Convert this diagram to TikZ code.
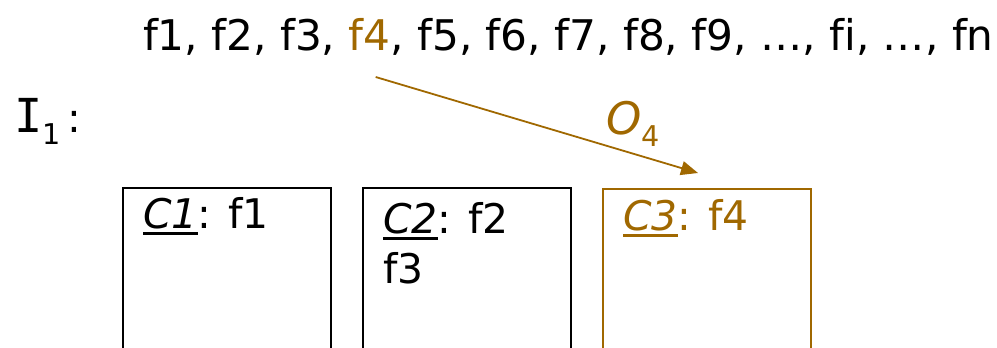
\documentclass[tikz,border=0pt]{standalone}
\usepackage{fontspec}
\setmainfont{DejaVu Sans}[Ligatures=NoCommon]
\newfontfamily\monoI{DejaVu Sans Mono}
\usetikzlibrary{arrows.meta,calc}
\definecolor{gold}{RGB}{160,104,0}
\newcommand\myul[1]{\setbox0\hbox{#1}\rlap{\raisebox{-7bp}{\rule{\wd0}{2.6bp}}}\box0}
\begin{document}
\begin{tikzpicture}[x=1bp,y=-1bp,
  every node/.style={inner sep=0pt,outer sep=0pt},
  big/.style={font=\fontsize{41}{49}\selectfont},
  top/.style={font=\fontsize{42.4}{50}\selectfont},
  cbox/.style={draw,line width=1.8bp,minimum width=208bp,minimum height=220bp,anchor=north west},
  arr/.style={draw=gold,line width=1.8bp,-{Triangle[length=17bp,width=14bp]}}]
\clip (0,0) rectangle (997,347);
% sequence
\node[top,anchor=base west] (sa) at (143,50) {f1, f2, f3,\ \null};
\node[top,anchor=base west,text=gold] (f4) at (sa.base east) {f4};
\node[top,anchor=base west] (sb) at (f4.base east) {, f5, f6, f7, f8, f9, …, fi, …, fn};
% I1
\node[big,anchor=base west] (ione) at (14,132) {{\monoI\fontsize{47}{50}\selectfont I}\textsubscript{1}\,:};
% O4
\node[big,anchor=base west,text=gold] (o4) at (606,134) {{\fontsize{45}{50}\selectfont\textit{O}}\textsubscript{4}};
% boxes
\node[cbox] (c1) at (123,188) {};
\node[cbox] (c2) at (363,188) {};
\node[cbox,draw=gold] (c3) at (603,189) {};
\node[big,anchor=base west] (t1) at (143,228) {\myul{\textit{C1}}: f1};
\node[big,anchor=base west] (t2) at (383,233) {\myul{\textit{C2}}: f2};
\node[big,anchor=base west] (t3) at (383,283) {f3};
\node[big,anchor=base west,text=gold] (t4) at (623,230) {\myul{\textit{C3}}: f4};
% arrow
\draw[arr] ($(f4.south)+(6,27)$) -- ($(c3.north)+(-9,-16)$);
\end{tikzpicture}
\end{document}
